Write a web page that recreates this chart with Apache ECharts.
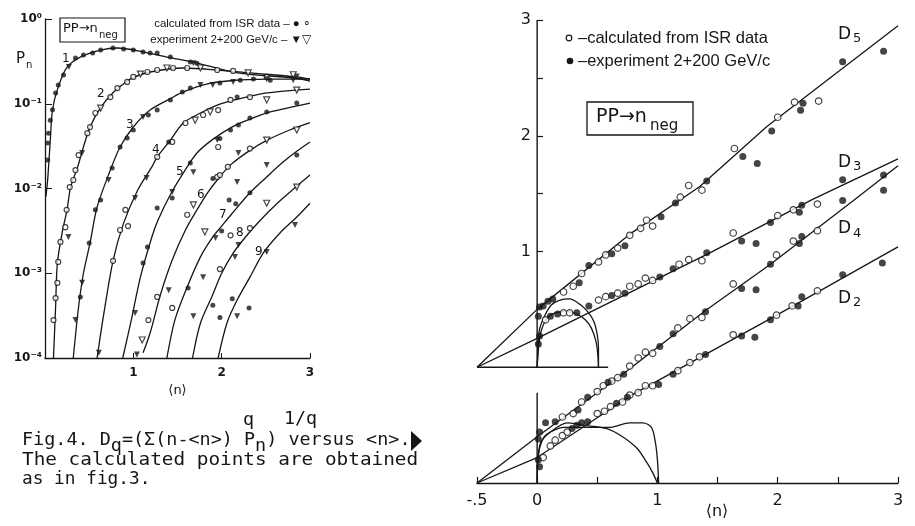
<!DOCTYPE html>
<html><head><meta charset="utf-8">
<script src="https://cdn.jsdelivr.net/npm/echarts@6/dist/echarts.min.js"></script>
<style>html,body{margin:0;padding:0;background:#fff}#c{width:915px;height:526px}</style>
</head><body><div id="c"></div>
<script>
// ---------- Left panel: P_n versus <n> (log scale) ----------
const curve1 = [[0.01,0.008],[0.03,0.0126],[0.06,0.037],[0.085,0.085],[0.15,0.158],[0.25,0.27],[0.40,0.355],[0.63,0.43],[0.82,0.455],[1.11,0.41],[1.38,0.356],[1.68,0.31],[2.18,0.231],[2.85,0.2],[3.0,0.185]];
const curve2 = [[0.096,1e-4],[0.12,4.0e-4],[0.14,1.32e-3],[0.20,3.24e-3],[0.25,5.6e-3],[0.29,0.0104],[0.37,0.018],[0.435,0.0309],[0.51,0.0532],[0.63,0.09],[0.77,0.135],[0.93,0.185],[1.0,0.205],[1.19,0.237],[1.565,0.264],[1.95,0.25],[2.32,0.231],[2.85,0.207],[3.0,0.195]];
const curve3 = [[0.32,1e-4],[0.38,4.0e-4],[0.435,1.0e-3],[0.51,2.28e-3],[0.59,6.05e-3],[0.74,0.0165],[0.85,0.0309],[1.0,0.0532],[1.19,0.0843],[1.42,0.115],[1.565,0.138],[1.84,0.172],[2.13,0.188],[2.51,0.195],[3.0,0.196]];
const curve4 = [[0.59,1e-4],[0.66,3.05e-4],[0.77,1.4e-3],[0.89,3.9e-3],[1.05,9.6e-3],[1.21,0.018],[1.27,0.0236],[1.42,0.0373],[1.565,0.0593],[1.76,0.0778],[1.95,0.0966],[2.21,0.115],[2.51,0.134],[3.0,0.149]];
const curve5 = [[0.88,1e-4],[0.97,2.59e-4],[1.08,9.0e-4],[1.21,2.68e-3],[1.28,4.25e-3],[1.42,8.5e-3],[1.565,0.0152],[1.72,0.0262],[1.90,0.038],[2.13,0.054],[2.32,0.066],[2.55,0.08],[3.0,0.102]];
const curve6 = [[1.11,1.15e-4],[1.19,1.97e-4],[1.305,5.5e-4],[1.44,1.43e-3],[1.59,3.24e-3],[1.72,5.6e-3],[1.84,8.9e-3],[1.95,0.0126],[2.10,0.019],[2.32,0.0282],[2.51,0.037],[2.77,0.049],[3.0,0.06]];
const curve7 = [[1.38,1e-4],[1.47,2.8e-4],[1.61,6.9e-4],[1.76,1.56e-3],[1.90,2.68e-3],[2.0,3.6e-3],[2.12,5.1e-3],[2.32,8.9e-3],[2.51,0.0137],[2.695,0.0205],[2.85,0.0275],[3.0,0.0354]];
const curve8 = [[1.67,1e-4],[1.76,2.59e-4],[1.89,5.3e-4],[2.0,1.0e-3],[2.13,1.73e-3],[2.27,2.68e-3],[2.44,4.25e-3],[2.63,6.7e-3],[2.81,9.8e-3],[3.0,0.0144]];
const curve9 = [[1.96,1e-4],[2.06,2.59e-4],[2.175,4.83e-4],[2.32,9.0e-4],[2.47,1.73e-3],[2.66,2.99e-3],[2.85,4.6e-3],[3.0,6.7e-3]];
const leftCurves = [curve1,curve2,curve3,curve4,curve5,curve6,curve7,curve8,curve9];
const curveLabels = ['1','2','3','4','5','6','7','8','9'];

const leftOpenCircles = [[0.096,2.8e-4],[0.12,5.1e-4],[0.14,7.7e-4],[0.15,1.36e-3],[0.175,2.34e-3],[0.23,3.5e-3],[0.245,5.6e-3],[0.28,0.0104],[0.32,0.0126],[0.345,0.0165],[0.38,0.0248],[0.48,0.045],[0.51,0.053],[0.57,0.0778],[0.74,0.12],[0.82,0.153],[0.93,0.181],[1.0,0.207],[1.16,0.237],[1.27,0.25],[1.45,0.264],[1.61,0.264],[1.95,0.25],[2.13,0.244],[2.51,0.207],
  [0.77,1.4e-3],[0.85,3.24e-3],[0.94,3.6e-3],[0.91,5.6e-3],[1.27,0.0236],[1.44,0.0354],[1.59,0.0593],[1.79,0.0737],[1.96,0.0843],[2.10,0.111],[2.32,0.12],
  [1.17,2.8e-4],[1.27,5.25e-4],[1.44,3.9e-4],[1.61,4.9e-3],[1.95,0.0137],[1.98,0.0144],[2.07,0.018],[2.32,0.0296],[2.10,2.8e-3],[2.32,3.4e-3],[1.98,1.12e-3],[1.96,0.0309]];
const leftFilledCircles = [[0.03,0.0217],[0.03,0.0344],[0.04,0.045],[0.06,0.064],[0.085,0.085],[0.12,0.134],[0.15,0.166],[0.21,0.218],[0.345,0.347],[0.435,0.376],[0.54,0.397],[0.63,0.43],[0.77,0.455],[0.89,0.443],[1.0,0.43],[1.11,0.407],[1.19,0.397],[1.27,0.397],[1.42,0.356],[1.645,0.311],[1.72,0.30],
  [0.40,5.25e-4],[0.50,2.28e-3],[0.57,5.6e-3],[0.63,7.3e-3],[0.76,0.0175],[0.85,0.0309],[0.93,0.0394],[1.0,0.049],[1.17,0.0737],[1.27,0.0843],[1.42,0.111],[1.555,0.138],[1.645,0.153],[1.98,0.176],[2.21,0.19],[2.36,0.196],[2.55,0.19],
  [2.175,0.12],[1.40,0.0354],
  [1.11,1.32e-3],[1.16,2.04e-3],[1.27,5.9e-3],[1.645,0.020],[1.98,0.039],[2.10,0.049],[2.19,0.056],[2.32,0.068],[2.51,0.080],[2.85,0.102],
  [1.44,7.7e-3],[2.0,3.15e-3],[2.085,7.3e-3],[2.16,6.6e-3],[2.32,8.9e-3],[1.62,6.7e-4],[1.90,4.2e-4],[2.12,5.0e-4],[1.98,3.0e-4],[2.31,3.9e-4],[2.85,0.0248],[1.90,0.0131]];
const leftFilledTriangles = [[0.27,0.272],[0.265,2.68e-3],[0.42,0.0262],[0.345,2.8e-4],[0.42,7.7e-4],[0.72,0.0126],[1.11,0.0698],[1.76,0.166],[1.90,0.166],[2.13,0.181],[2.81,0.19],[1.02,7.7e-3],[1.15,0.0133],[1.02,3.4e-4],[1.44,9.1e-3],[1.68,0.0156],[1.95,0.0373],[1.40,6.3e-4],[2.19,0.0262],[1.93,2.6e-3],[2.19,2.15e-3],[2.15,1.56e-3],[2.83,3.7e-3],[2.51,1.78e-3],[1.79,9.0e-4],[1.68,3.1e-4],[2.175,3.1e-4],[2.51,0.0189],[2.175,0.0119],[1.68,0.30],[2.85,0.21],[2.51,0.195],[0.61,1.15e-4],[1.04,1.1e-4]];
const leftOpenTriangles = [[0.63,0.089],[1.08,0.224],[1.38,0.264],[1.76,0.264],[2.30,0.231],[2.81,0.22],[1.70,0.064],[1.87,0.080],[2.51,0.111],[2.85,0.145],[1.10,1.63e-4],[1.68,6.4e-3],[2.51,0.0373],[2.85,0.049],[1.81,3.07e-3],[2.51,6.7e-3],[2.85,0.0104]];

const leftYLabels = {'-4':'10⁻⁴','-3':'10⁻³','-2':'10⁻²','-1':'10⁻¹','0':'10⁰'};
const leftXLabelValues = [1,2,3];

// ---------- Right panel: D_q versus <n> ----------
// D5, D3 on the upper scale; D4, D2 on the lower (shifted) scale
const d5Line = [[-0.5,0],[0,0.5],[0.77,1.15],[1.35,1.56],[1.91,2.08],[3.0,2.95]];
const d3Line = [[-0.5,0],[0,0.25],[1.44,0.99],[2.29,1.45],[3.0,1.8]];
const d4Line = [[-0.5,0],[0,0.4],[0.71,0.94],[1.40,1.49],[1.94,1.89],[2.63,2.44],[3.0,2.74]];
const d2Line = [[-0.5,0],[0,0.22],[0.77,0.75],[1.94,1.42],[3.0,2.04]];

const d5Filled = [[0.01,0.44],[0.02,0.52],[0.05,0.53],[0.09,0.57],[0.13,0.59],[0.35,0.73],[0.43,0.88],[0.62,0.98],[0.73,1.05],[1.03,1.30],[1.15,1.42],[1.41,1.61],[1.71,1.82],[1.83,1.76],[1.95,2.04],[2.19,2.22],[2.21,2.28],[2.54,2.64],[2.88,2.73]];
const d5Open = [[0.22,0.65],[0.30,0.70],[0.37,0.81],[0.51,0.91],[0.57,0.97],[0.67,1.03],[0.77,1.14],[0.86,1.20],[0.91,1.27],[0.96,1.22],[1.19,1.47],[1.26,1.57],[1.37,1.53],[1.64,1.89],[2.00,2.16],[2.14,2.29],[2.34,2.30]];
const d3Filled = [[0.01,0.2],[0.02,0.27],[0.11,0.44],[0.17,0.46],[0.33,0.47],[0.43,0.53],[0.62,0.62],[0.73,0.64],[1.02,0.78],[1.13,0.85],[1.41,0.99],[1.70,1.09],[1.82,1.07],[1.94,1.25],[2.18,1.34],[2.20,1.40],[2.54,1.62],[2.88,1.66]];
const d3Open = [[0.07,0.41],[0.22,0.47],[0.27,0.47],[0.51,0.58],[0.57,0.61],[0.67,0.64],[0.77,0.70],[0.84,0.72],[0.90,0.77],[0.96,0.75],[1.18,0.89],[1.26,0.93],[1.37,0.92],[1.63,1.16],[2.00,1.31],[2.13,1.36],[2.33,1.41]];
const d4Filled = [[0.01,0.38],[0.02,0.44],[0.07,0.52],[0.15,0.53],[0.34,0.63],[0.42,0.74],[0.59,0.87],[0.72,0.94],[1.02,1.18],[1.13,1.29],[1.40,1.48],[1.70,1.68],[1.82,1.67],[1.94,1.89],[2.18,2.07],[2.20,2.13],[2.54,2.44],[2.88,2.53]];
const d4Open = [[0.21,0.57],[0.30,0.60],[0.37,0.70],[0.50,0.79],[0.55,0.84],[0.62,0.88],[0.67,0.91],[0.77,1.01],[0.84,1.08],[0.90,1.13],[0.96,1.12],[1.17,1.34],[1.27,1.42],[1.37,1.43],[1.63,1.72],[1.99,1.97],[2.13,2.09],[2.33,2.18]];
const d2Filled = [[0.01,0.2],[0.02,0.14],[0.29,0.47],[0.33,0.50],[0.37,0.52],[0.42,0.53],[0.66,0.69],[0.75,0.74],[1.01,0.85],[1.13,0.94],[1.40,1.11],[1.70,1.27],[1.81,1.26],[1.94,1.41],[2.17,1.53],[2.20,1.61],[2.54,1.80],[2.87,1.90]];
const d2Open = [[0.05,0.22],[0.11,0.32],[0.15,0.37],[0.21,0.41],[0.25,0.44],[0.50,0.60],[0.56,0.62],[0.61,0.66],[0.71,0.70],[0.77,0.76],[0.84,0.78],[0.90,0.84],[0.96,0.84],[1.17,0.97],[1.27,1.04],[1.35,1.09],[1.63,1.28],[1.99,1.45],[2.12,1.53],[2.33,1.66]];

const upperArcOuter = [[0,0],[0.01,0.2],[0.02,0.33],[0.07,0.46],[0.12,0.54],[0.19,0.58],[0.27,0.59],[0.36,0.54],[0.42,0.48],[0.47,0.40],[0.50,0.28],[0.51,0.16],[0.51,0]];
const upperArcInner = [[0,0],[0.01,0.15],[0.03,0.3],[0.08,0.42],[0.15,0.47],[0.25,0.48],[0.33,0.46],[0.40,0.41],[0.45,0.34],[0.49,0.22],[0.505,0.1],[0.51,0]];
const lowerArcA = [[0,0],[0.005,0.15],[0.02,0.3],[0.06,0.4],[0.11,0.44],[0.22,0.48],[0.42,0.48],[0.6,0.48],[0.77,0.52],[0.88,0.52],[0.95,0.48],[0.98,0.37],[1.0,0.2],[1.01,0]];
const lowerArcB = [[0,0],[0.005,0.2],[0.03,0.35],[0.11,0.44],[0.25,0.52],[0.38,0.50],[0.58,0.47],[0.71,0.40],[0.83,0.30],[0.91,0.18],[0.96,0.09],[1.0,0]];
const upperInsetBase = [[-0.5,0],[0.59,0]];
// vertical frame lines at <n> = 0 (upper scale units)
const upperAxisSeg = [[0,0],[0,3]];
const lowerAxisSeg = [[0,-1],[0,-0.22]];

const rightXLabelValues = [-0.5,0,1,2,3];
const rightXLabelText = ['-.5','0','1','2','3'];
const rightXTickValues = [-0.5,0,0.5,1,1.5,2,2.5,3];
const rightYLabelValues = [1,2,3];
const rightYTickValues = [1,1.5,2,2.5,3];

// ---------- build ----------
const ink = '#161616';
const SANS = 'DejaVu Sans';
const NARROW = 'Liberation Sans';
const MONO = 'DejaVu Sans Mono';

function lineSeries(data, xi, yi, smooth, w) {
  return {type:'line', xAxisIndex:xi, yAxisIndex:yi, data:data, symbol:'none', showSymbol:false,
    smooth: smooth || false, lineStyle:{color:ink, width:w||1.3}, silent:true, z:2, animation:false};
}
function markSeries(data, xi, yi, filled, tri, size) {
  return {type:'scatter', xAxisIndex:xi, yAxisIndex:yi, data:data,
    symbol: tri ? 'triangle' : 'circle', symbolRotate: tri ? 180 : 0, symbolSize:size,
    itemStyle: filled ? {color:ink} : {color:'#fff', borderColor:ink, borderWidth:1.2},
    silent:true, z:3, animation:false};
}

const series = [];
leftCurves.forEach(c => series.push(lineSeries(c, 0, 0, 0.3, 1.3)));
series.push(markSeries(leftOpenCircles, 0, 0, false, false, 5));
series.push(markSeries(leftFilledCircles, 0, 0, true, false, 5));
series.push(markSeries(leftFilledTriangles, 0, 0, true, true, 6));
series.push(markSeries(leftOpenTriangles, 0, 0, false, true, 6));

series.push(lineSeries(upperAxisSeg, 1, 1, false, 1.4));
series.push(lineSeries(lowerAxisSeg, 1, 1, false, 1.4));
series.push(lineSeries(d5Line, 1, 1, false, 1.3));
series.push(lineSeries(d3Line, 1, 1, false, 1.3));
series.push(lineSeries(upperArcOuter, 1, 1, 0.3, 1.3));
series.push(lineSeries(upperArcInner, 1, 1, 0.3, 1.3));
series.push(lineSeries(upperInsetBase, 1, 1, false, 1.3));
series.push(lineSeries(d4Line, 1, 2, false, 1.3));
series.push(lineSeries(d2Line, 1, 2, false, 1.3));
series.push(lineSeries(lowerArcA, 1, 2, 0.3, 1.3));
series.push(lineSeries(lowerArcB, 1, 2, 0.3, 1.3));
series.push(markSeries(d5Open, 1, 1, false, false, 6.5));
series.push(markSeries(d5Filled, 1, 1, true, false, 7));
series.push(markSeries(d3Open, 1, 1, false, false, 6.5));
series.push(markSeries(d3Filled, 1, 1, true, false, 7));
series.push(markSeries(d4Open, 1, 2, false, false, 6.5));
series.push(markSeries(d4Filled, 1, 2, true, false, 7));
series.push(markSeries(d2Open, 1, 2, false, false, 6.5));
series.push(markSeries(d2Filled, 1, 2, true, false, 7));

function txt(s, x, y, size, opts) {
  opts = opts || {};
  return {type:'text', x:x, y:y, scaleX: opts.scaleX || 1, silent:true, z:10,
    style:{text:s, fontSize:size, fontFamily: opts.font || SANS, fontWeight: opts.weight || 'normal',
      fill:ink, align: opts.align || 'left', textAlign: opts.align || 'left',
      verticalAlign:'middle', textVerticalAlign:'middle'}};
}
function mono(s, x0, col, y, cw, size) {
  const sc = cw / (size * 0.602);
  return txt(s, x0 + col * cw, y, size, {font:MONO, scaleX:sc});
}

const CW1 = 11.1, CW2 = 11.65, CW3 = 10.7, CX = 22;
const graphics = [
  // left panel annotations
  txt('P', 16, 59, 15), txt('n', 26, 65, 10),
  {type:'rect', shape:{x:60, y:18, width:65, height:24}, style:{fill:'none', stroke:ink, lineWidth:1.2}, silent:true},
  txt('PP→n', 63, 29, 13), txt('neg', 99, 35, 10),
  txt('calculated from ISR data – ● ∘', 311, 24, 11.5, {font:NARROW, align:'right'}),
  txt('experiment 2+200 GeV/c – ▼▽', 311, 40, 11.5, {font:NARROW, align:'right'}),
  txt(curveLabels[0], 62, 59, 12), txt(curveLabels[1], 97, 94, 12), txt(curveLabels[2], 126, 125, 12),
  txt(curveLabels[3], 152, 150, 12), txt(curveLabels[4], 176, 172, 12), txt(curveLabels[5], 197, 195, 12),
  txt(curveLabels[6], 219, 215, 12), txt(curveLabels[7], 236, 233, 12), txt(curveLabels[8], 255, 252, 12),
  // right panel annotations
  {type:'circle', shape:{cx:569, cy:38, r:2.8}, style:{fill:'#fff', stroke:ink, lineWidth:1.2}, silent:true},
  txt('–calculated from ISR data', 578, 38, 16.5, {font:NARROW}),
  {type:'circle', shape:{cx:570, cy:61, r:3.3}, style:{fill:ink}, silent:true},
  txt('–experiment 2+200 GeV/c', 578, 61, 16.5, {font:NARROW}),
  {type:'rect', shape:{x:587, y:102, width:106, height:33}, style:{fill:'none', stroke:ink, lineWidth:1.3}, silent:true},
  txt('PP→n', 596, 117, 19), txt('neg', 650, 126, 15),
  txt('D', 838, 35, 17), txt('5', 853, 39, 13),
  txt('D', 838, 163, 17), txt('3', 853, 167, 13),
  txt('D', 838, 229, 17), txt('4', 853, 234, 13),
  txt('D', 838, 299, 17), txt('2', 853, 303, 13),
  txt('⟨n⟩', 717, 512, 16, {align:'center'}),
  // caption
  txt('q', 243, 421, 17, {font:MONO, scaleX:1.08}), txt('1/q', 284, 420, 17, {font:MONO, scaleX:1.08}),
  mono('Fig.4. D', CX, 0, 441, CW1, 17), mono('q', CX, 8, 447, CW1, 17),
  mono('=(Σ(n-<n>) P', CX, 9, 441, CW1, 17), mono('n', CX, 21, 447, CW1, 17),
  mono(') versus <n>.', CX, 22, 441, CW1, 17),
  {type:'polygon', shape:{points:[[411,431],[422,441],[411,451]]}, style:{fill:ink}, silent:true},
  mono('The calculated points are obtained', CX, 0, 461, CW2, 17),
  mono('as in fig.3.', CX, 0, 480, CW3, 17)
];

const option = {
  animation:false,
  backgroundColor:'#fff',
  textStyle:{fontFamily:SANS, color:ink},
  grid:[
    {left:45, top:19, width:265, height:339},
    {left:477, top:20, width:421, height:463}
  ],
  xAxis:[
    {gridIndex:0, type:'value', min:0, max:3, interval:1,
      axisLine:{onZero:false, lineStyle:{color:ink, width:1.3}},
      axisTick:{inside:true, length:5, lineStyle:{color:ink}},
      axisLabel:{customValues:leftXLabelValues, color:ink, fontSize:12, fontWeight:'bold', margin:9},
      splitLine:{show:false},
      name:'⟨n⟩', nameLocation:'middle', nameGap:13, nameTextStyle:{color:ink, fontSize:13}},
    {gridIndex:1, type:'value', min:-0.5, max:3,
      axisLine:{onZero:false, lineStyle:{color:ink, width:1.3}},
      axisTick:{inside:true, length:6, customValues:rightXTickValues, lineStyle:{color:ink, width:1.2}},
      axisLabel:{customValues:rightXLabelValues, color:ink, fontSize:16, margin:10,
        formatter: v => rightXLabelText[rightXLabelValues.indexOf(v)] ?? String(v)},
      splitLine:{show:false}}
  ],
  yAxis:[
    {gridIndex:0, type:'log', logBase:10, min:1e-4, max:1,
      axisLine:{show:true, onZero:false, lineStyle:{color:ink, width:1.3}},
      axisTick:{show:true, inside:true, length:7, lineStyle:{color:ink}},
      minorTick:{show:false},
      axisLabel:{color:ink, fontSize:12, fontWeight:'bold', margin:3,
        formatter: v => leftYLabels[String(Math.round(Math.log10(v)))] || ''},
      splitLine:{show:false}},
    {gridIndex:1, type:'value', min:-1, max:3, offset:-60,
      axisLine:{show:false, onZero:false},
      axisTick:{show:true, inside:true, length:6, customValues:rightYTickValues, lineStyle:{color:ink, width:1.2}},
      axisLabel:{customValues:rightYLabelValues, color:ink, fontSize:16, margin:6},
      splitLine:{show:false}},
    {gridIndex:1, type:'value', min:0, max:4, position:'right', show:false, splitLine:{show:false}}
  ],
  series: series,
  graphic: graphics
};

const chart = echarts.init(document.getElementById('c'), null, {renderer:'canvas'});
chart.setOption(option);
</script>
</body></html>
